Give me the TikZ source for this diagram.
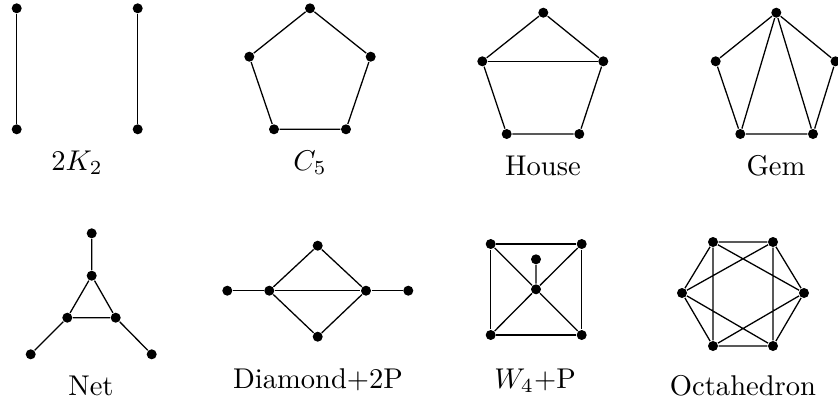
\documentclass[tikz,border=0pt]{standalone}
\begin{document}
\begin{tikzpicture}[x=0.35pt,y=-0.35pt,
  vtx/.style={circle,fill=black,inner sep=0pt,minimum size=3.5pt},
  lbl/.style={anchor=base,inner sep=0pt},
  every path/.style={line width=0.45pt}]
\useasboundingbox (0,0) rectangle (838,401);
% 2K2
\node[vtx] (a1) at (16.7,8.3) {};
\node[vtx] (a2) at (16.7,129.3) {};
\node[vtx] (a3) at (137.7,8.3) {};
\node[vtx] (a4) at (137.7,129.3) {};
\draw (a1) -- (a2) (a3) -- (a4);
\node[lbl] (la) at (77,170) {$2K_2$};
% C5
\node[vtx] (b1) at (310,8.3) {};
\node[vtx] (b2) at (370.7,56.7) {};
\node[vtx] (b3) at (346,129.3) {};
\node[vtx] (b4) at (274,129.3) {};
\node[vtx] (b5) at (249.3,56.7) {};
\draw (b1) -- (b2) -- (b3) -- (b4) -- (b5) -- (b1);
\node[lbl] (lb) at (310,170) {$C_5$};
% House
\node[vtx] (c1) at (543.3,12.7) {};
\node[vtx] (c2) at (603.3,61.3) {};
\node[vtx] (c3) at (579.3,134) {};
\node[vtx] (c4) at (506.7,134) {};
\node[vtx] (c5) at (482.3,61.3) {};
\draw (c1) -- (c2) -- (c3) -- (c4) -- (c5) -- (c1);
\draw (c5) -- (c2);
\node[lbl] (lc) at (543,175) {House};
% Gem
\node[vtx] (d1) at (776.3,12.7) {};
\node[vtx] (d2) at (835.5,61.3) {};
\node[vtx] (d3) at (813,134) {};
\node[vtx] (d4) at (740.3,134) {};
\node[vtx] (d5) at (715.7,61.3) {};
\draw (d1) -- (d2) -- (d3) -- (d4) -- (d5) -- (d1);
\draw (d1) -- (d3) (d1) -- (d4);
\node[lbl] (ld) at (776,175) {Gem};
% Net
\node[vtx] (e1) at (91.7,233.3) {};
\node[vtx] (e2) at (91.7,275.7) {};
\node[vtx] (e3) at (67.3,317.7) {};
\node[vtx] (e4) at (115.7,317.7) {};
\node[vtx] (e5) at (30.7,354.3) {};
\node[vtx] (e6) at (151.7,354.3) {};
\draw (e1) -- (e2) -- (e3) -- (e4) -- (e2);
\draw (e3) -- (e5) (e4) -- (e6);
\node[lbl] (le) at (91,395) {Net};
% Diamond+2P
\node[vtx] (f1) at (227.3,290.7) {};
\node[vtx] (f2) at (269.3,290.7) {};
\node[vtx] (f3) at (317.7,245.7) {};
\node[vtx] (f4) at (317.7,336.7) {};
\node[vtx] (f5) at (366,290.7) {};
\node[vtx] (f6) at (408.3,290.7) {};
\draw (f1) -- (f2) -- (f5) -- (f6);
\draw (f2) -- (f3) -- (f5) -- (f4) -- (f2);
\node[lbl] (lf) at (318,388) {Diamond+2P};
% W4+P
\node[vtx] (g1) at (490.7,244) {};
\node[vtx] (g2) at (581.7,244) {};
\node[vtx] (g3) at (581.7,335) {};
\node[vtx] (g4) at (490.7,335) {};
\node[vtx] (g5) at (536,289.3) {};
\node[vtx] (g6) at (536,259.3) {};
\draw (g1) -- (g2) -- (g3) -- (g4) -- (g1);
\draw (g1) -- (g5) -- (g3) (g2) -- (g5) -- (g4) (g5) -- (g6);
\node[lbl] (lg) at (535,388) {$W_4$+P};
% Octahedron
\node[vtx] (h1) at (713,242) {};
\node[vtx] (h2) at (773,242) {};
\node[vtx] (h3) at (804,293) {};
\node[vtx] (h4) at (773,346) {};
\node[vtx] (h5) at (713,346) {};
\node[vtx] (h6) at (682,293) {};
\draw (h1) -- (h2) -- (h3) -- (h4) -- (h5) -- (h6) -- (h1);
\draw (h1) -- (h5) (h2) -- (h4) (h1) -- (h3) (h2) -- (h6) (h6) -- (h4) (h3) -- (h5);
\node[lbl] (lh) at (743,395) {Octahedron};
\end{tikzpicture}
\end{document}
